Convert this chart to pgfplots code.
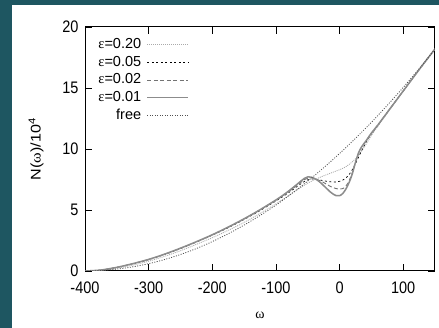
\documentclass[border=0pt]{standalone}
\usepackage{graphicx}
\usepackage{fontspec}
\setmainfont{Liberation Sans}
\newfontfamily\grk{Liberation Serif}
\usepackage{pgfplots}
\pgfplotsset{compat=1.18}
\definecolor{tealbg}{RGB}{30,86,97}
\definecolor{cA}{RGB}{170,170,170}
\definecolor{cC}{RGB}{115,115,115}
\definecolor{cD}{RGB}{140,140,140}
\definecolor{cF}{RGB}{80,80,80}
\newcommand{\vs}[1]{\scalebox{1}[1.15]{#1}}
\begin{document}
\begin{tikzpicture}
\path[use as bounding box, fill=tealbg] (0,0) rectangle (439pt,328pt);
\fill[white] (12pt,0) rectangle (439pt,323pt);
\begin{axis}[
  at={(85pt,57pt)}, anchor=south west,
  scale only axis, width=350pt, height=244pt,
  xmin=-400, xmax=150, ymin=0, ymax=20,
  xtick={-400,-300,-200,-100,0,100},
  xticklabels={\vs{-400},\vs{-300},\vs{-200},\vs{-100},\vs{0},\vs{100}},
  ytick={0,5,10,15,20},
  yticklabels={\vs{0},\vs{5},\vs{10},\vs{15},\vs{20}},
  tick pos=both, xticklabel pos=lower, yticklabel pos=left,
  tick align=inside,
  major tick length=7pt,
  every tick/.style={black, line width=0.8pt},
  axis line style={black, line width=1pt},
  ticklabel style={font=\fontsize{14.5}{16}\selectfont},
  xticklabel shift=7pt,
  yticklabel shift=3pt,
  xlabel={\grk ω},
  x label style={at={(axis description cs:0.5,-0.18)}, anchor=center, font=\fontsize{14}{16}\selectfont},
  ylabel={\scalebox{1.15}[1]{N({\grk ω})/10\textsuperscript{4}}},
  y label style={at={(axis description cs:-0.14,0.5)}, anchor=center, rotate=0, font=\fontsize{14}{16}\selectfont},
  legend cell align=right,
  legend plot pos=right,
  legend image code/.code={\draw[#1] (0pt,0pt) -- (41pt,0pt);},
  legend style={draw=none, fill=none, inner sep=0pt,
    at={(axis description cs:0.298,0.965)}, anchor=north east,
    font=\fontsize{14.5}{16}\selectfont,
    nodes={inner sep=2.4pt, text height=10.3pt, text depth=2.6pt},
    row sep=0pt, column sep=3pt},
]
\addplot[cA, line width=0.8pt, dash pattern=on 1pt off 1pt, smooth] coordinates {
(-400,0) (-375,0.05) (-350,0.22) (-325,0.48) (-300,0.8) (-275,1.2) (-250,1.66) (-225,2.18) (-200,2.73) (-175,3.33) (-150,3.98) (-125,4.72) (-100,5.5) (-75,6.35) (-50,7.2) (-25,7.8) (0,8.3) (10,8.55) (20,8.95) (30,9.5) (40,10.25) (50,11.1) (60,11.85) (75,12.95) (100,14.75) (125,16.5) (150,18.2)};
\addlegendentry{{\grk ε}=0.20}
\addplot[black, line width=0.7pt, dash pattern=on 2pt off 2.5pt, smooth] coordinates {
(-400,0) (-375,0.07) (-350,0.29) (-325,0.58) (-300,0.93) (-275,1.35) (-250,1.84) (-225,2.37) (-200,2.94) (-175,3.55) (-150,4.22) (-125,4.95) (-100,5.74) (-90,6.07) (-80,6.42) (-70,6.8) (-60,7.18) (-55,7.35) (-50,7.47) (-45,7.53) (-40,7.53) (-35,7.5) (-30,7.45) (-25,7.4) (-20,7.35) (-15,7.31) (-10,7.3) (-5,7.3) (0,7.35) (5,7.45) (10,7.62) (15,7.9) (20,8.3) (25,8.8) (30,9.35) (35,9.9) (40,10.4) (45,10.85) (50,11.25) (60,11.95) (75,13.0) (100,14.75) (125,16.5) (150,18.2)};
\addlegendentry{{\grk ε}=0.05}
\addplot[cC, line width=0.9pt, dash pattern=on 4pt off 2.5pt, smooth] coordinates {
(-400,0) (-375,0.08) (-350,0.3) (-325,0.6) (-300,0.95) (-275,1.37) (-250,1.86) (-225,2.39) (-200,2.96) (-175,3.58) (-150,4.26) (-125,5.0) (-100,5.79) (-90,6.13) (-80,6.5) (-70,6.9) (-60,7.3) (-55,7.5) (-50,7.6) (-45,7.63) (-40,7.6) (-35,7.5) (-30,7.38) (-25,7.25) (-20,7.1) (-15,6.95) (-10,6.83) (-5,6.75) (0,6.72) (5,6.75) (10,6.95) (15,7.4) (20,8.05) (25,8.9) (30,9.7) (35,10.2) (40,10.55) (45,10.92) (50,11.3) (60,11.95) (75,13.0) (100,14.75) (125,16.5) (150,18.2)};
\addlegendentry{{\grk ε}=0.02}
\addplot[cD, line width=1.5pt, smooth] coordinates {
(-400,0) (-375,0.08) (-350,0.3) (-325,0.6) (-300,0.95) (-275,1.38) (-250,1.87) (-225,2.4) (-200,2.97) (-175,3.6) (-150,4.28) (-125,5.02) (-100,5.82) (-90,6.17) (-80,6.55) (-70,6.97) (-60,7.4) (-55,7.6) (-50,7.71) (-45,7.7) (-40,7.6) (-35,7.45) (-30,7.25) (-25,7.0) (-20,6.75) (-15,6.5) (-10,6.3) (-5,6.17) (0,6.17) (5,6.35) (10,6.72) (15,7.25) (20,7.95) (25,8.9) (30,9.7) (35,10.2) (40,10.55) (45,10.92) (50,11.3) (60,11.95) (75,13.0) (100,14.75) (125,16.5) (150,18.2)};
\addlegendentry{{\grk ε}=0.01}
\addplot[cF, line width=0.8pt, dash pattern=on 1pt off 1.5pt, smooth] coordinates {
(-400,0) (-375,0.04) (-350,0.15) (-325,0.34) (-300,0.6) (-275,0.94) (-250,1.35) (-225,1.84) (-200,2.41) (-175,3.05) (-150,3.76) (-125,4.55) (-100,5.4) (-75,6.36) (-50,7.37) (-25,8.46) (0,9.63) (25,10.87) (50,12.18) (75,13.58) (100,15.04) (125,16.58) (150,18.2)};
\addlegendentry{free}
\end{axis}
\end{tikzpicture}
\end{document}
